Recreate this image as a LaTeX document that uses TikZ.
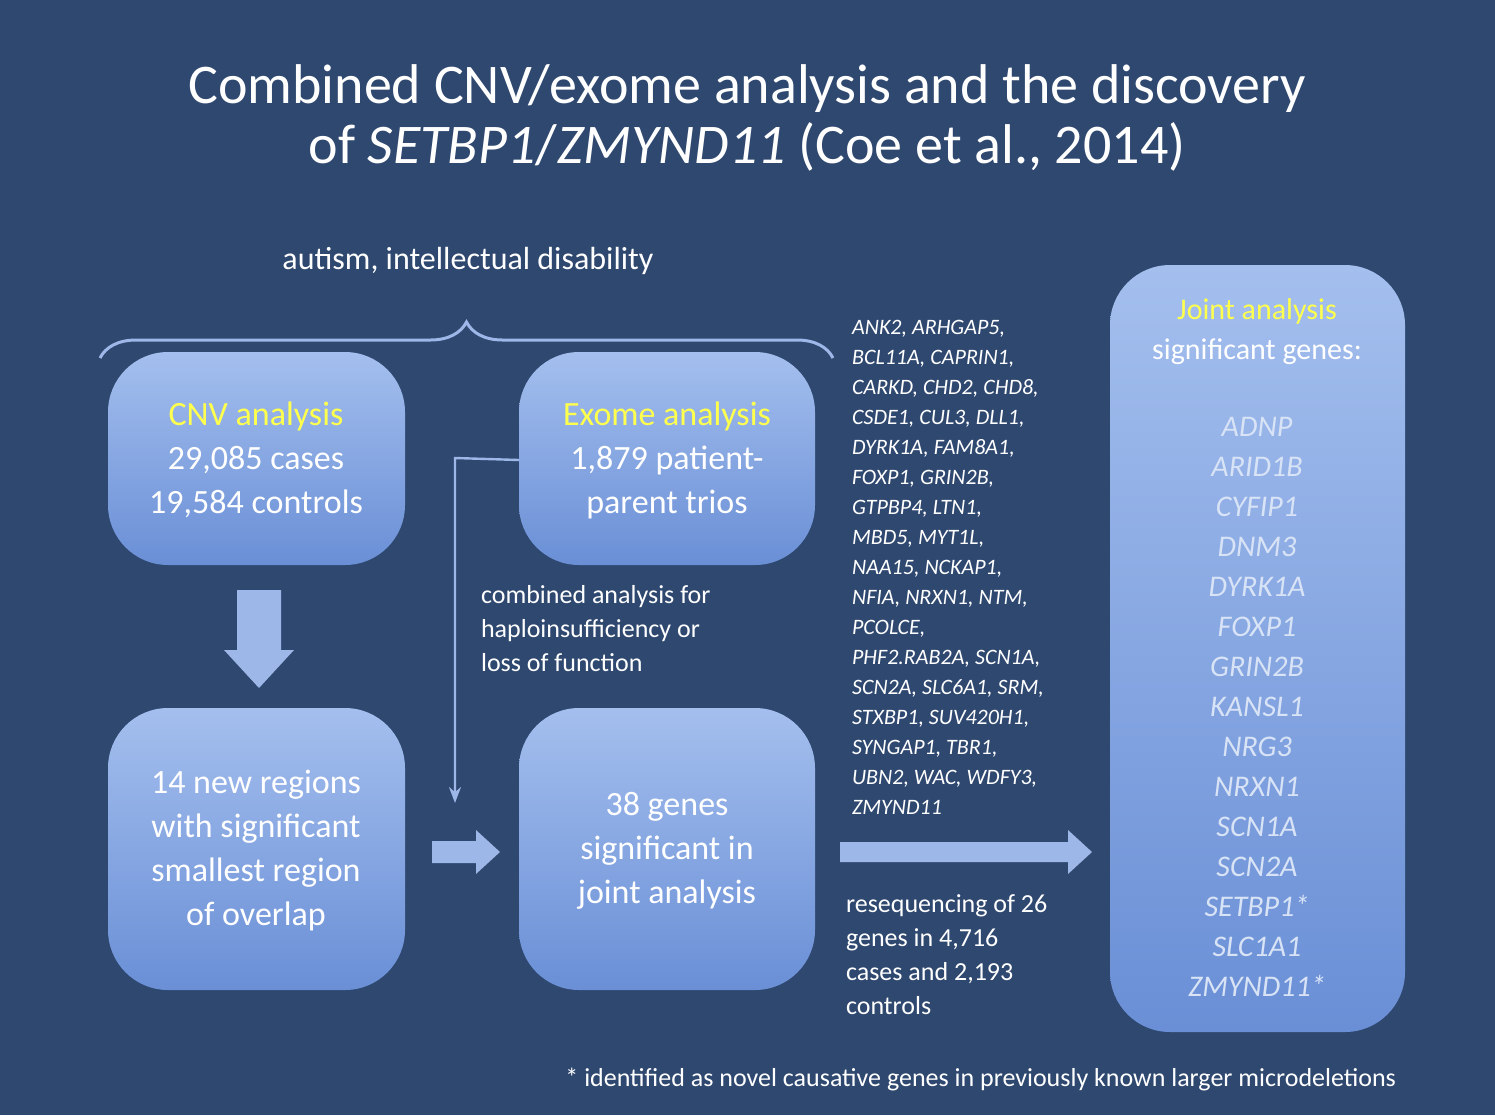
\documentclass[tikz,border=0pt]{standalone}
\usepackage{fontspec}
\setmainfont{Carlito}
\usetikzlibrary{decorations.pathreplacing,arrows.meta}
\definecolor{bg}{HTML}{2F4870}
\definecolor{bxt}{HTML}{A4BFEE}
\definecolor{bxb}{HTML}{6A8FD6}
\definecolor{yel}{HTML}{FFFF4D}
\definecolor{lb}{HTML}{9DB8E8}
\tikzset{box/.style={draw=none,rounded corners=30pt,top color=bxt,bottom color=bxb},
 bt/.style={text=white,align=center,font=\fontsize{17}{22}\selectfont},
 wt/.style={text=white,font=\fontsize{13}{17}\selectfont,align=left},
 gl/.style={text=white,font=\fontsize{11}{15}\selectfont\itshape,align=left,anchor=north west},
 blk/.style={fill=lb,draw=none}}
\begin{document}
\begin{tikzpicture}[x=0.5pt,y=-0.5pt]
\fill[bg] (0,0) rectangle (1495,1115);
\node[text=white,align=center,font=\fontsize{28}{30}\selectfont] (title) at (747,118) {Combined CNV/exome analysis and the discovery\\ of \textit{SETBP1}/\textit{ZMYND11} (Coe et al., 2014)};
\node[text=white,font=\fontsize{16}{20}\selectfont] (aut) at (468,261) {autism, intellectual disability};
\draw[lb,line width=1.5pt,decorate,decoration={brace,amplitude=18pt}] (100,358) -- (833,358);
% boxes
\path[box] (108,352) rectangle (405,565); \node[bt] (cnv) at (256,460) {\textcolor{yel}{CNV analysis}\\29,085 cases\\19,584 controls};
\path[box] (519,352) rectangle (815,565); \node[bt] (exo) at (667,460) {\textcolor{yel}{Exome analysis}\\1,879 patient-\\parent trios};
\path[box] (108,708) rectangle (405,990); \node[bt] (reg) at (256,851) {14 new regions\\with significant\\smallest region\\of overlap};
\path[box] (519,708) rectangle (815,990); \node[bt] (g38) at (667,851) {38 genes\\significant in\\joint analysis};
\path[box] (1110,265) rectangle (1405,1032);
\node[text=white,align=center,font=\fontsize{15}{20}\selectfont,anchor=north] (joint) at (1257,292) {\textcolor{yel}{Joint analysis}\\significant genes:};
\node[text=lb!40!white,align=center,font=\fontsize{15}{20}\selectfont\itshape,anchor=north] (jg) at (1257,410) {ADNP\\ARID1B\\CYFIP1\\DNM3\\DYRK1A\\FOXP1\\GRIN2B\\KANSL1\\NRG3\\NRXN1\\SCN1A\\SCN2A\\SETBP1*\\SLC1A1\\ZMYND11*};
% arrows
\fill[blk] (237,590) -- (281,590) -- (281,650) -- (294,650) -- (259,688) -- (224,650) -- (237,650) -- cycle;
\fill[blk] (432,841) -- (476,841) -- (476,830) -- (500,852) -- (476,874) -- (476,863) -- (432,863) -- cycle;
\fill[blk] (840,842) -- (1068,842) -- (1068,830) -- (1092,852) -- (1068,874) -- (1068,862) -- (840,862) -- cycle;
\coordinate (c1) at (455,458); \coordinate (c2) at (455,803);
\draw[lb,line width=1.2pt,-{Stealth[length=8pt]}] (exo.west -| 519,458) -- (c1) -- (c2);
\node[wt,anchor=north west] (comb) at (474,578) {combined analysis for\\haploinsufficiency or\\loss of function};
\node[wt,anchor=north west] (rese) at (839,888) {resequencing of 26\\genes in 4,716\\cases and 2,193\\controls};
\node[gl] (list) at (845,313) {ANK2, ARHGAP5,\\BCL11A, CAPRIN1,\\CARKD, CHD2, CHD8,\\CSDE1, CUL3, DLL1,\\DYRK1A, FAM8A1,\\FOXP1, GRIN2B,\\GTPBP4, LTN1,\\MBD5, MYT1L,\\NAA15, NCKAP1,\\NFIA, NRXN1, NTM,\\PCOLCE,\\PHF2.RAB2A, SCN1A,\\SCN2A, SLC6A1, SRM,\\STXBP1, SUV420H1,\\SYNGAP1, TBR1,\\UBN2, WAC, WDFY3,\\ZMYND11};
\node[wt,anchor=east] (note) at (1403,1079) {* identified as novel causative genes in previously known larger microdeletions};
\end{tikzpicture}
\end{document}
